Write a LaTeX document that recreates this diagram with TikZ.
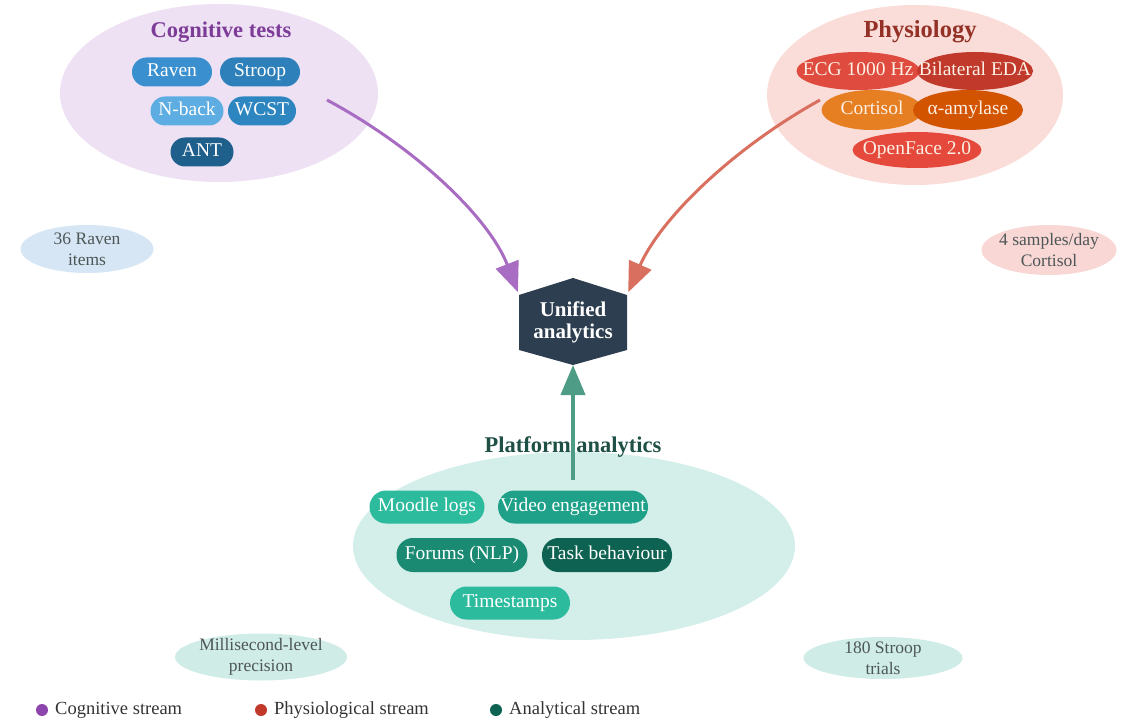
\documentclass[tikz,border=0pt]{standalone}
\usepackage{fontspec}
\setmainfont{Liberation Serif}
\usetikzlibrary{shapes.geometric,shapes.misc,arrows.meta}
\definecolor{cogbg}{HTML}{EEE1F4}
\definecolor{cogtitle}{HTML}{7D3C98}
\definecolor{raven}{HTML}{3A8FCF}
\definecolor{stroop}{HTML}{2E80BA}
\definecolor{nback}{HTML}{5DADE2}
\definecolor{wcst}{HTML}{2E86C1}
\definecolor{ant}{HTML}{1F5F8B}
\definecolor{phybg}{HTML}{FADCD8}
\definecolor{phytitle}{HTML}{943126}
\definecolor{ecg}{HTML}{DF4B3E}
\definecolor{eda}{HTML}{C0392B}
\definecolor{cort}{HTML}{E67E22}
\definecolor{amyl}{HTML}{D35400}
\definecolor{openf}{HTML}{E5493C}
\definecolor{phytext}{HTML}{FDF0E4}
\definecolor{anbg}{HTML}{D4EEEA}
\definecolor{antitle}{HTML}{1E5045}
\definecolor{moodle}{HTML}{2DBB9E}
\definecolor{video}{HTML}{1FA088}
\definecolor{forums}{HTML}{1A8A72}
\definecolor{task}{HTML}{0E6251}
\definecolor{hexcol}{HTML}{2C3E50}
\definecolor{noteblue}{HTML}{D6E6F4}
\definecolor{notepink}{HTML}{F8D7D5}
\definecolor{noteteal}{HTML}{D0ECE7}
\definecolor{notetext}{HTML}{4D5656}
\definecolor{arrpurple}{HTML}{A96CC3}
\definecolor{arrred}{HTML}{D9705F}
\definecolor{arrgreen}{HTML}{4E9C85}
\definecolor{dotpurple}{HTML}{8E44AD}
\definecolor{dotred}{HTML}{C0392B}
\definecolor{dotgreen}{HTML}{0E6251}
\definecolor{legtext}{HTML}{333333}
\newcommand\fpill{\fontsize{19.5}{22}\selectfont}
\newcommand\ftitle{\fontsize{22.5}{25}\selectfont}
\newcommand\fbigtitle{\fontsize{24.5}{27}\selectfont}
\newcommand\fsmall{\fontsize{17.5}{21}\selectfont}
\newcommand\fhex{\fontsize{21}{22}\selectfont}
\newcommand\flegend{\fontsize{18.5}{21}\selectfont}
\begin{document}
\begin{tikzpicture}[x=1pt,y=-1pt,
  group/.style={ellipse, inner sep=0pt},
  ttl/.style={inner sep=0pt, font=\ftitle\bfseries},
  cogpill/.style={rectangle, rounded corners=14.5pt, minimum height=29pt, inner sep=0pt, text=white, font=\fpill, text height=13.5pt, text depth=4pt},
  phy/.style={ellipse, minimum height=38pt, inner sep=0pt},
  phylabel/.style={inner sep=0pt, text=phytext, font=\fpill, text height=13.5pt, text depth=4pt},
  anpill/.style={rectangle, rounded corners=16.5pt, minimum height=33pt, inner sep=0pt, text=white, font=\fpill, text height=13.5pt, text depth=4pt},
  note/.style={ellipse, inner sep=0pt},
  notelabel/.style={inner sep=0pt, align=center, text=notetext, font=\fsmall},
  flow/.style={line width=3pt, -{Triangle[length=30pt,width=24pt]}},
  dot/.style={circle, inner sep=0pt, minimum size=12pt},
  legtxt/.style={anchor=west, inner sep=0pt, text=legtext, font=\flegend}
]
\useasboundingbox (0,0) rectangle (1131,719);

% group backgrounds
\node[group, fill=cogbg, minimum width=318pt, minimum height=178pt] (cog) at (219,93) {};
\node[group, fill=phybg, minimum width=296pt, minimum height=180pt] (phys) at (915,95) {};
\node[group, fill=anbg, minimum width=442pt, minimum height=188pt] (plat) at (574,546) {};

% titles
\node[ttl, text=cogtitle] (cogt) at (221,32) {Cognitive tests};
\node[ttl, font=\fbigtitle\bfseries, text=phytitle] (phyt) at (920,32) {Physiology};
\node[ttl, text=antitle] (platt) at (573,447) {Platform analytics};

% cognitive pills
\node[cogpill, fill=raven, minimum width=80pt] (raven) at (172,72) {Raven};
\node[cogpill, fill=stroop, minimum width=80pt] (stroop) at (260,72) {Stroop};
\node[cogpill, fill=nback, minimum width=73pt] (nback) at (187,111) {N-back};
\node[cogpill, fill=wcst, minimum width=68pt] (wcst) at (262,111) {WCST};
\node[cogpill, fill=ant, minimum width=63pt] (ant) at (202,152) {ANT};

% physiology items
\node[phy, fill=ecg, minimum width=123pt, label={[phylabel]center:ECG 1000 Hz}] (ecg) at (858,71) {};
\node[phy, fill=eda, minimum width=116pt, label={[phylabel]center:Bilateral EDA}] (eda) at (975,71) {};
\node[phy, fill=cort, minimum width=101pt, minimum height=40pt, label={[phylabel]center:Cortisol}] (cortisol) at (872,110) {};
\node[phy, fill=amyl, minimum width=110pt, minimum height=40pt, label={[phylabel]center:α-amylase}] (amylase) at (968,110) {};
\node[phy, fill=openf, minimum width=129pt, minimum height=36pt, label={[phylabel]center:OpenFace 2.0}] (openface) at (917,150) {};

% analytics pills
\node[anpill, fill=moodle, minimum width=115pt] (moodle) at (427,507) {Moodle logs};
\node[anpill, fill=video, minimum width=150pt] (video) at (573,507) {Video engagement};
\node[anpill, fill=forums, minimum width=131pt, minimum height=34pt] (forums) at (462,555) {Forums (NLP)};
\node[anpill, fill=task, minimum width=130pt, minimum height=34pt] (task) at (607,555) {Task behaviour};
\node[anpill, fill=moodle, minimum width=120pt] (times) at (510,603) {Timestamps};

% notes
\node[note, fill=noteblue, minimum width=133pt, minimum height=48pt, label={[notelabel]center:36 Raven\\items}] (n1) at (87,249) {};
\node[note, fill=notepink, minimum width=135pt, minimum height=50pt, label={[notelabel]center:4 samples/day\\Cortisol}] (n2) at (1049,250) {};
\node[note, fill=noteteal, minimum width=172pt, minimum height=47pt, label={[notelabel]center:Millisecond-level\\precision}] (n3) at (261,657) {};
\node[note, fill=noteteal, minimum width=159pt, minimum height=42pt, label={[notelabel]center:180 Stroop\\trials}] (n4) at (883,658) {};

% hexagon
\coordinate (hT) at (573,278);
\coordinate (hTR) at (627,295);
\coordinate (hBR) at (627,350);
\coordinate (hB) at (573,365);
\coordinate (hBL) at (519,350);
\coordinate (hTL) at (519,295);
\fill[hexcol] (hT) -- (hTR) -- (hBR) -- (hB) -- (hBL) -- (hTL) -- cycle;
\node[align=center, text=white, font=\fhex\bfseries, inner sep=0pt] (unified) at (573,322) {Unified\\analytics};

% connectors
\coordinate (cogout) at (327,100);
\coordinate (phyout) at (820,100);
\coordinate (platout) at (573,480);
\draw[flow, draw=arrpurple, shorten >=3pt] (cogout) .. controls (420,150) and (490,220) .. (hTL);
\draw[flow, draw=arrred, shorten >=3pt] (phyout) .. controls (730,150) and (660,220) .. (hTR);
\draw[flow, line width=4pt, draw=arrgreen] (platout) -- (hB);

% legend
\node[dot, fill=dotpurple] (d1) at (42,710) {};
\node[legtxt] (l1) at (55,710) {Cognitive stream};
\node[dot, fill=dotred] (d2) at (261,710) {};
\node[legtxt] (l2) at (274,710) {Physiological stream};
\node[dot, fill=dotgreen] (d3) at (496,710) {};
\node[legtxt] (l3) at (509,710) {Analytical stream};
\end{tikzpicture}
\end{document}
